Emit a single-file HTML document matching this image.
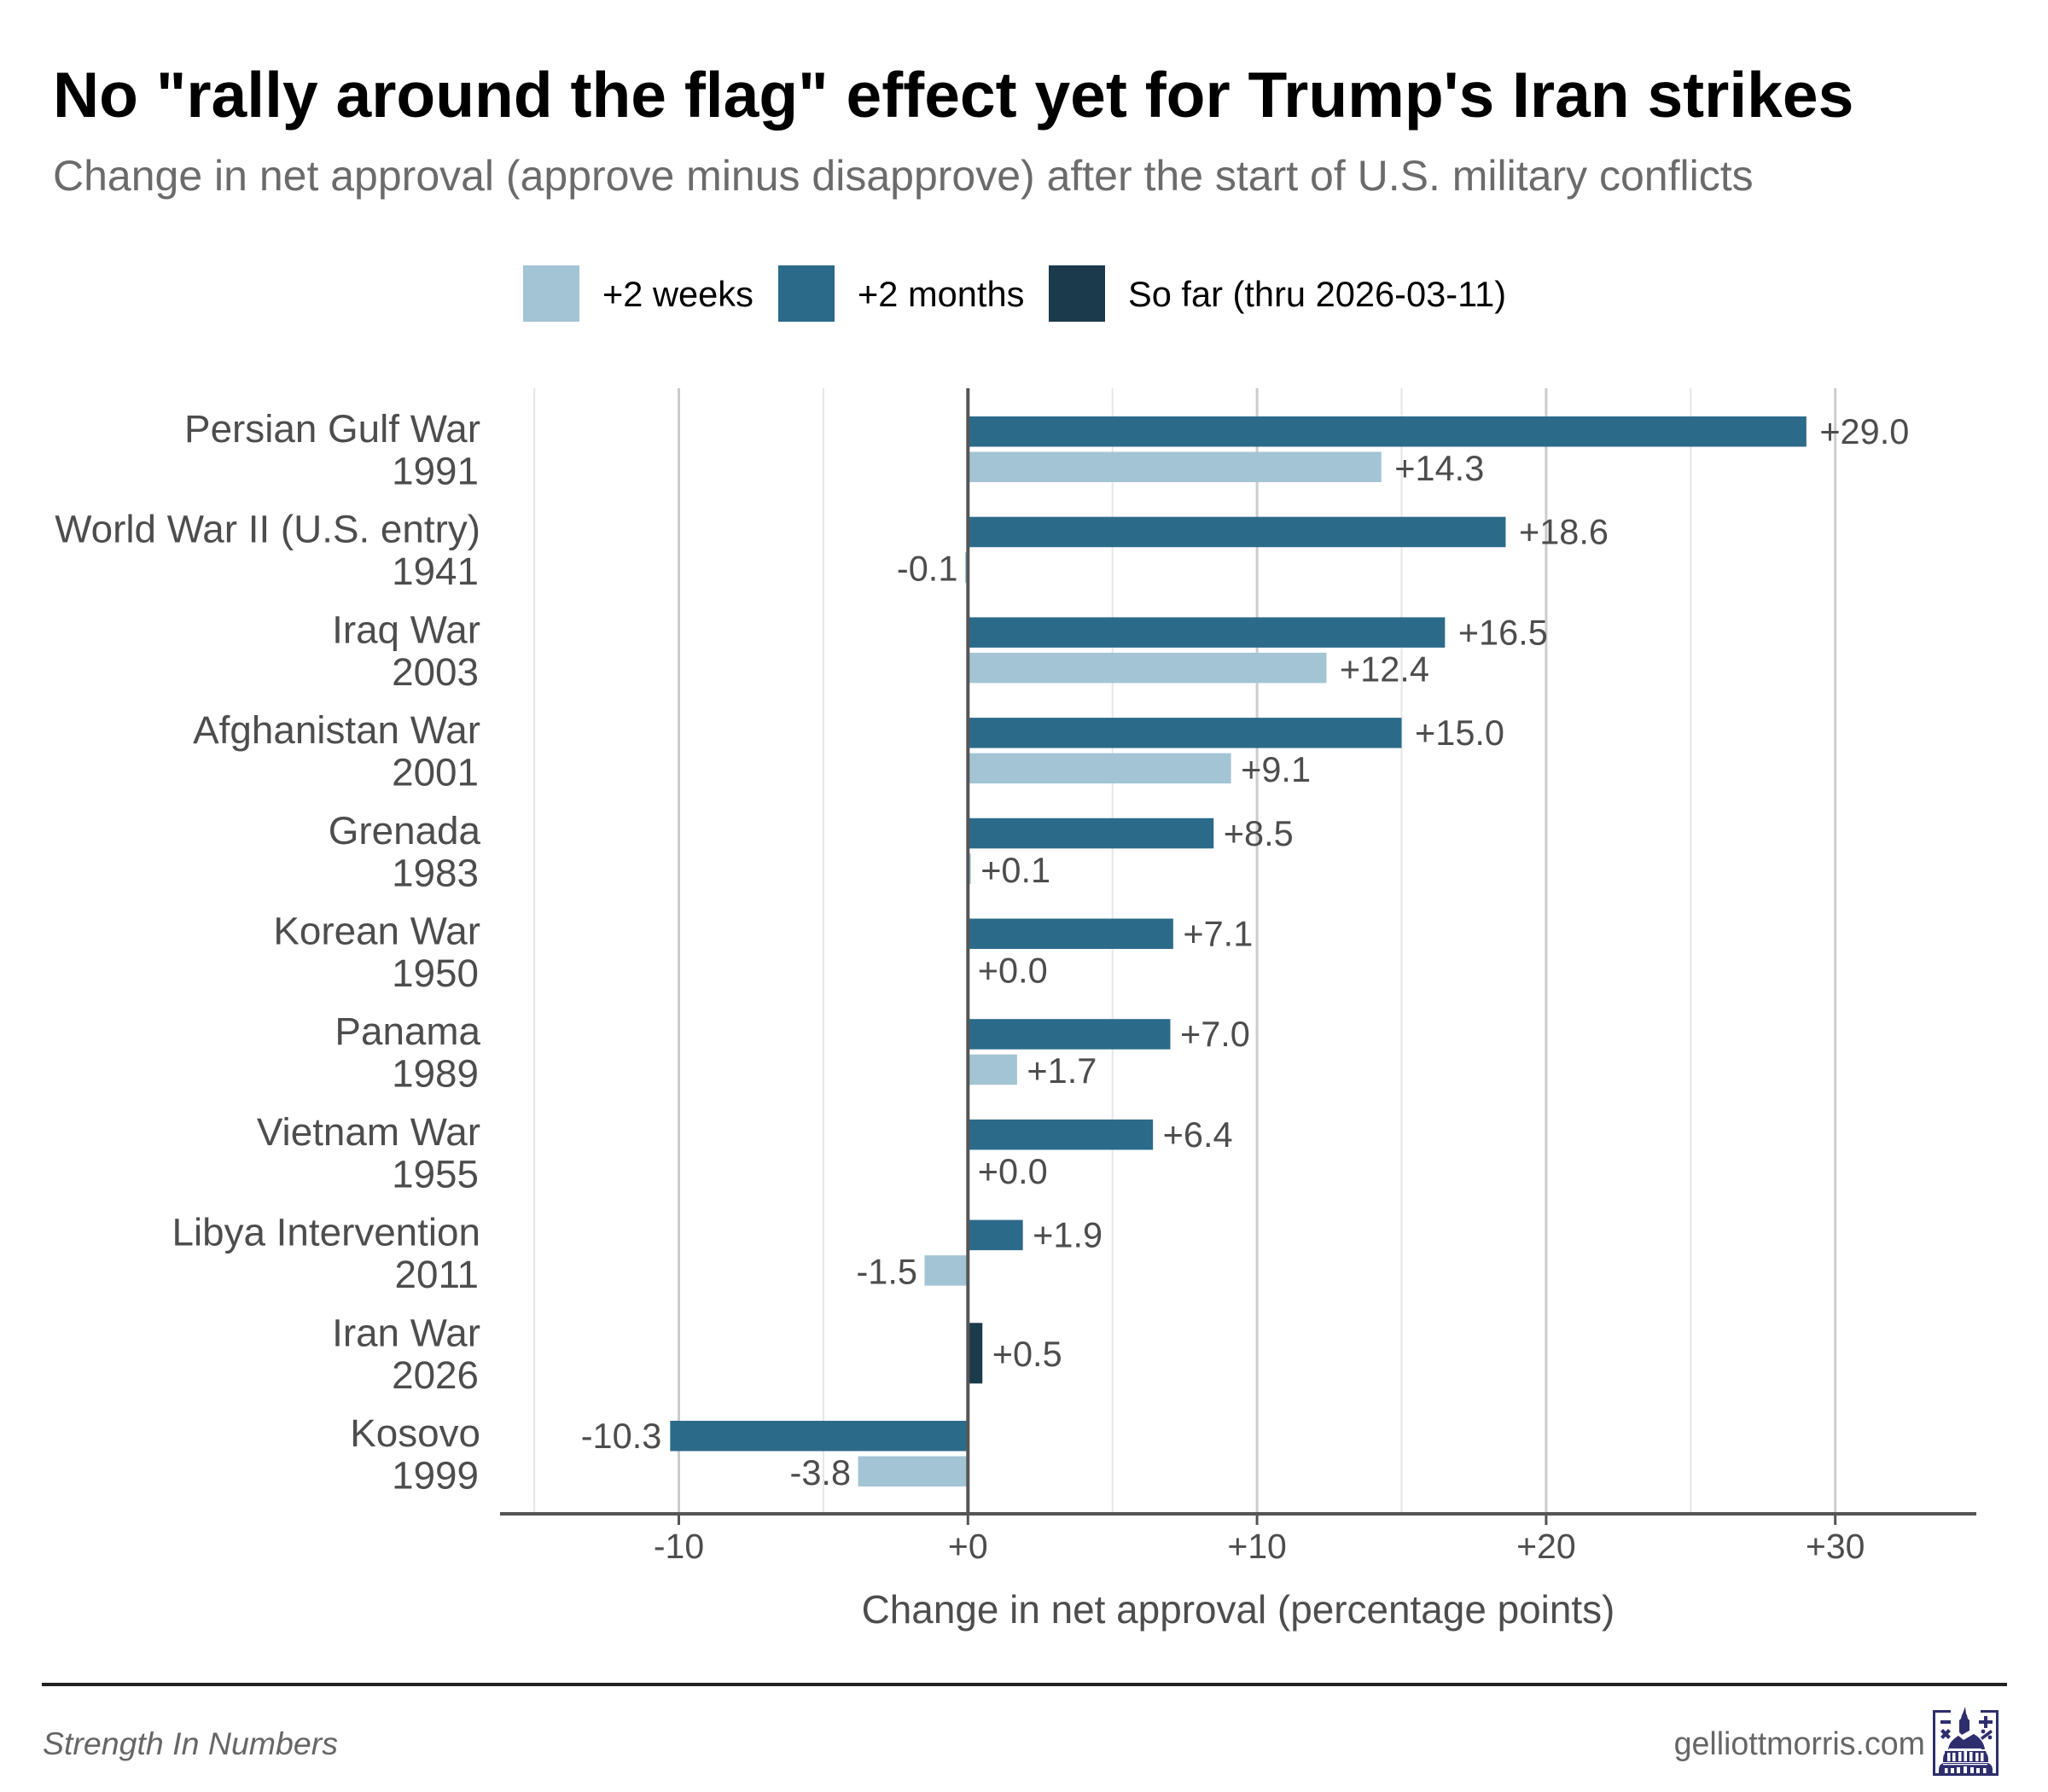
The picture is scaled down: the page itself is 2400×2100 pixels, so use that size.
<!DOCTYPE html>
<html lang="en">
<head>
<meta charset="utf-8">
<title>No "rally around the flag" effect yet for Trump's Iran strikes</title>
<style>
html,body{margin:0;padding:0;background:#fff;}
svg{display:block;}
text{font-family:"Liberation Sans",Arial,Helvetica,sans-serif;}
</style>
</head>
<body>
<svg id="chart" xmlns="http://www.w3.org/2000/svg" width="2400" height="2100" viewBox="0 0 2400 2100">
  <rect x="0" y="0" width="2400" height="2100" fill="#ffffff"/>
  <text x="62" y="137" font-size="75" font-weight="700" fill="#000000">No "rally around the flag" effect yet for Trump's Iran strikes</text>
  <text x="62" y="223" font-size="50" fill="#6b6b6b">Change in net approval (approve minus disapprove) after the start of U.S. military conflicts</text>

  <g>
    <rect x="613" y="311" width="66" height="66" fill="#a3c4d4"/>
    <text x="706" y="359" font-size="41.6" fill="#000000">+2 weeks</text>
    <rect x="912" y="311" width="66" height="66" fill="#2c6a8a"/>
    <text x="1005" y="359" font-size="41.6" fill="#000000">+2 months</text>
    <rect x="1229" y="311" width="66" height="66" fill="#1b3a4b"/>
    <text x="1322" y="359" font-size="41.6" fill="#000000">So far (thru 2026-03-11)</text>
  </g>

  <g id="grid"></g>
  <g id="bars"></g>
  <g id="values"></g>
  <g id="cats"></g>
  <g id="xaxis"></g>
  <text x="1451" y="1902" font-size="45.9" fill="#4d4d4d" text-anchor="middle">Change in net approval (percentage points)</text>

  <rect x="49" y="1972" width="2303" height="4" fill="#222222"/>
  <text x="50" y="2056" font-size="37.5" font-style="italic" fill="#666666">Strength In Numbers</text>
  <text x="2256" y="2056" font-size="37.6" fill="#666666" text-anchor="end">gelliottmorris.com</text>

  <g fill="#2e2e6e">
    <path d="M2265 2004h21v3h-18v71h71v-71h-18v-3h21v77h-77z"/>
    <rect x="2274" y="2016" width="12" height="4"/>
    <path d="M2325 2011h4v5h6v4h-6v5h-4v-5h-6v-4h6z"/>
    <path d="M2277 2026l3 3 3-3 3 3-3 3 3 3-3 3-3-3-3 3-3-3 3-3-3-3z"/>
    <path d="M2321 2036l12-9 2 3-12 9z"/>
    <circle cx="2324" cy="2029" r="2.4"/><circle cx="2332" cy="2036" r="2.4"/>
    <path d="M2303 2000l1 8 1 2 1 4 2 2v12l-9 5-3-3v-14l2-2 1-4 1-2z"/>
    <path d="M2283 2050c1-8 6-12 12-16l6 5 12-7c7 4 12 10 13 18z"/>
    <path d="M2279 2052h48l1 3c2 2 2 6 2 10h-53c0-4 0-8 2-10z"/>
    <path d="M2272 2074c0-5 3-8 7-8h49c4 0 7 3 7 8v5h-63z"/>
    <g fill="#ffffff">
      <rect x="2282" y="2054" width="3.5" height="10"/><rect x="2288" y="2054" width="3.5" height="10"/><rect x="2295" y="2053" width="3.5" height="11"/><rect x="2301.5" y="2052" width="3.5" height="12"/><rect x="2308" y="2053" width="3.5" height="11"/><rect x="2315" y="2054" width="3.5" height="10"/><rect x="2321" y="2054" width="3.5" height="10"/>
      <rect x="2279" y="2072" width="3.5" height="6"/><rect x="2286" y="2072" width="4" height="6"/><rect x="2293" y="2071" width="4" height="7"/><rect x="2301" y="2070" width="4" height="8"/><rect x="2309" y="2071" width="4" height="7"/><rect x="2316" y="2072" width="4" height="6"/><rect x="2324" y="2072" width="3.5" height="6"/>
      <rect x="2277" y="2067" width="52" height="1.3"/><rect x="2284" y="2049" width="38" height="1.2"/>
    </g>
  </g>
</svg>
<script>
const categories = ["Persian Gulf War","World War II (U.S. entry)","Iraq War","Afghanistan War","Grenada","Korean War","Panama","Vietnam War","Libya Intervention","Iran War","Kosovo"];
const years = ["1991","1941","2003","2001","1983","1950","1989","1955","2011","2026","1999"];
const twoMonths = [29.0,18.6,16.5,15.0,8.5,7.1,7.0,6.4,1.9,null,-10.3];
const twoWeeks = [14.3,-0.1,12.4,9.1,0.1,0.0,1.7,0.0,-1.5,null,-3.8];
const soFar = [null,null,null,null,null,null,null,null,null,0.5,null];
const majorTicks = [-10,0,10,20,30];
const minorTicks = [-15,-5,5,15,25];

const NS = "http://www.w3.org/2000/svg";
const x0 = 1134.3, pxPerUnit = 33.88;
const rowTop = 526.5, rowStep = 117.7;
const plotTop = 455, plotBottom = 1774;
function xScale(v){ return x0 + v * pxPerUnit; }
function yScale(i){ return rowTop + i * rowStep; }
function fmt(v, d){ return (v < 0 ? "-" : "+") + Math.abs(v).toFixed(d); }
function slug(s){ return s.toLowerCase().replace(/[^a-z0-9]+/g, "-").replace(/^-|-$/g, ""); }
function labelOffset(v){
  const big = Math.abs(v) >= 10;
  if (v < 0) return big ? -10 : -8.5;
  return big ? 15.5 : 11.5;
}
function make(tag, parent, attrs, txt){
  const el = document.createElementNS(NS, tag);
  for (const k in attrs) el.setAttribute(k, attrs[k]);
  if (txt !== undefined) el.textContent = txt;
  parent.appendChild(el);
  return el;
}
const gGrid = document.getElementById("grid");
const gBars = document.getElementById("bars");
const gVals = document.getElementById("values");
const gCats = document.getElementById("cats");
const gAxis = document.getElementById("xaxis");

minorTicks.forEach(function(t){
  const el = make("rect", gGrid, {x: xScale(t) - 1, y: plotTop, width: 2, height: plotBottom - plotTop, fill: "#e6e6e6"});
  
  
});
majorTicks.forEach(function(t){
  const el = make("rect", gGrid, {x: xScale(t) - 1.5, y: plotTop, width: 3, height: plotBottom - plotTop, fill: "#cccccc"});
  
  
});

function drawBar(v, top, h, color, name, labelY){
  const xa = xScale(Math.min(v, 0)), xb = xScale(Math.max(v, 0));
  const bar = make("rect", gBars, {x: xa, y: top, width: Math.max(xb - xa, 0), height: h, fill: color});
  
  
  const neg = v < 0;
  const lab = make("text", gVals, {
    x: xScale(v) + labelOffset(v),
    y: labelY,
    "font-size": 41.5,
    fill: "#4d4d4d",
    "text-anchor": neg ? "end" : "start"
  }, fmt(v, 1));
  
  
}

categories.forEach(function(c, i){
  const cy = yScale(i);
  const s = slug(c);
  if (twoMonths[i] !== null) drawBar(twoMonths[i], cy - 38.5, 35.5, "#2c6a8a", "bar-2-months-" + s, cy - 6.5);
  if (twoWeeks[i] !== null) drawBar(twoWeeks[i], cy + 3, 35.5, "#a3c4d4", "bar-2-weeks-" + s, cy + 36.5);
  if (soFar[i] !== null) drawBar(soFar[i], cy - 35.5, 71, "#1b3a4b", "bar-so-far-" + s, cy + 15);
  const t1 = make("text", gCats, {x: 563, y: cy - 8.5, "font-size": 45.8, fill: "#4d4d4d", "text-anchor": "end"}, c);
  
  
  const t2 = make("text", gCats, {x: 561, y: cy + 41, "font-size": 45.8, fill: "#4d4d4d", "text-anchor": "end"}, years[i]);
  
  
});

const zero = make("rect", gAxis, {x: x0 - 2, y: plotTop, width: 4, height: plotBottom - plotTop, fill: "#555555"});


const axisLine = make("rect", gAxis, {x: 586, y: plotBottom - 2, width: 1730, height: 4, fill: "#555555"});


majorTicks.forEach(function(t){
  const tick = make("rect", gAxis, {x: xScale(t) - 1.5, y: plotBottom, width: 3, height: 13, fill: "#555555"});
  
  
  const lab = make("text", gAxis, {x: xScale(t), y: 1826, "font-size": 41, fill: "#4d4d4d", "text-anchor": "middle"}, fmt(t, 0));
  
  
});
</script>
</body>
</html>
